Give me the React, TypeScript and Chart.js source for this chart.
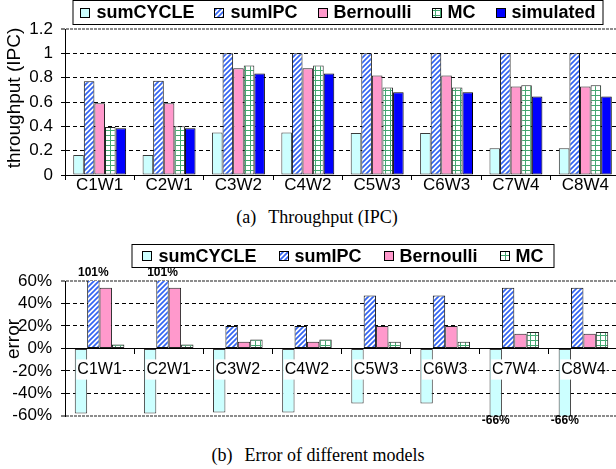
import React, { useEffect, useRef } from 'react';
import { Chart, registerables } from 'chart.js';

Chart.register(...registerables);

const categories = ['C1W1', 'C2W1', 'C3W2', 'C4W2', 'C5W3', 'C6W3', 'C7W4', 'C8W4'];
const seriesNames = ['sumCYCLE', 'sumIPC', 'Bernoulli', 'MC', 'simulated'];

// (a) Throughput (IPC)
const tpSumCycle = [0.165, 0.165, 0.35, 0.35, 0.345, 0.345, 0.22, 0.22];
const tpSumIPC = [0.77, 0.775, 1.0, 1.0, 1.0, 1.0, 1.0, 1.0];
const tpBernoulli = [0.59, 0.59, 0.878, 0.878, 0.818, 0.818, 0.727, 0.727];
const tpMC = [0.395, 0.4, 0.9, 0.9, 0.72, 0.72, 0.738, 0.738];
const tpSimulated = [0.385, 0.385, 0.835, 0.835, 0.68, 0.68, 0.645, 0.645];

// (b) Error of different models (%)
const errSumCycle = [-58, -58, -57, -57, -49, -49, -66, -66];
const errSumIPC = [101, 101, 20, 20, 47, 47, 54, 54];
const errBernoulli = [54, 54, 6, 6, 20, 20, 13, 13];
const errMC = [3.5, 3.5, 8, 8, 6, 6, 14.5, 14.5];

const tpAxis = { min: 0, max: 1.2, step: 0.2, title: 'throughput (IPC)' };
const errAxis = { min: -60, max: 60, step: 20, title: 'error' };

const SANS = '"Liberation Sans", Arial, Helvetica, sans-serif';
const SERIF = '"Liberation Serif", "Times New Roman", serif';

function stripePattern(): CanvasPattern | string {
  const c = document.createElement('canvas');
  c.width = 5; c.height = 5;
  const g = c.getContext('2d');
  if (!g) return '#3a66f0';
  g.fillStyle = '#ffffff';
  g.fillRect(0, 0, 5, 5);
  g.strokeStyle = '#3364f2';
  g.lineWidth = 1.7;
  g.beginPath();
  g.moveTo(-1, 6); g.lineTo(6, -1);
  g.moveTo(-1, 1); g.lineTo(1, -1);
  g.moveTo(4, 6); g.lineTo(6, 4);
  g.stroke();
  return g.createPattern(c, 'repeat') || '#3a66f0';
}

function gridPattern(): CanvasPattern | string {
  const c = document.createElement('canvas');
  c.width = 5; c.height = 5;
  const g = c.getContext('2d');
  if (!g) return '#ffffff';
  g.fillStyle = '#ffffff';
  g.fillRect(0, 0, 5, 5);
  g.fillStyle = '#45a872';
  g.fillRect(0, 0, 5, 1);
  g.fillRect(0, 0, 1, 5);
  return g.createPattern(c, 'repeat') || '#ffffff';
}

const boxLegend = {
  id: 'boxLegend',
  afterDraw(chart: any, _args: any, opts: any) {
    const ctx = chart.ctx as CanvasRenderingContext2D;
    const { left, top, width, height, gap } = opts;
    ctx.save();
    ctx.font = `bold 18px ${SANS}`;
    const items = chart.data.datasets.map((ds: any) => ({ label: ds.label, fill: ds.backgroundColor }));
    const sq = 10, sp = 6;
    const widths = items.map((it: any) => sq + sp + ctx.measureText(it.label).width);
    const total = widths.reduce((a: number, b: number) => a + b, 0) + gap * (items.length - 1);
    let x = left + (width - total) / 2;
    const cy = top + height / 2;
    ctx.fillStyle = '#fff';
    ctx.fillRect(left, top, width, height);
    ctx.strokeStyle = '#000';
    ctx.lineWidth = 1;
    ctx.strokeRect(left + 0.5, top + 0.5, width - 1, height - 1);
    items.forEach((it: any, i: number) => {
      const sx = Math.round(x);
      const sy = Math.round(cy - 5);
      ctx.fillStyle = it.fill;
      ctx.fillRect(sx, sy, sq, sq);
      ctx.strokeStyle = '#000';
      ctx.strokeRect(sx + 0.5, sy + 0.5, sq - 1, sq - 1);
      ctx.fillStyle = '#000';
      ctx.textBaseline = 'middle';
      ctx.textAlign = 'left';
      ctx.fillText(it.label, x + sq + sp, cy + 1);
      x += widths[i] + gap;
    });
    ctx.restore();
  },
};

const sideTitle = {
  id: 'sideTitle',
  afterDraw(chart: any, _args: any, opts: any) {
    const ctx = chart.ctx as CanvasRenderingContext2D;
    ctx.save();
    ctx.font = `${opts.size}px ${SANS}`;
    ctx.fillStyle = '#000';
    ctx.textAlign = 'center';
    ctx.textBaseline = 'middle';
    ctx.translate(opts.x, opts.y);
    ctx.rotate(-Math.PI / 2);
    ctx.fillText(opts.text, 0, 0);
    ctx.restore();
  },
};

const clipLabels = {
  id: 'clipLabels',
  afterDraw(chart: any, _args: any, opts: any) {
    if (!opts || !opts.enabled) return;
    const ctx = chart.ctx as CanvasRenderingContext2D;
    const y = chart.scales.y;
    const area = chart.chartArea;
    ctx.save();
    ctx.font = `bold 12px ${SANS}`;
    ctx.fillStyle = '#000';
    ctx.textAlign = 'center';
    ctx.textBaseline = 'middle';
    chart.data.datasets.forEach((ds: any, di: number) => {
      const meta = chart.getDatasetMeta(di);
      ds.data.forEach((v: number, i: number) => {
        if (v > y.max || v < y.min) {
          const el = meta.data[i];
          const ty = v > y.max ? area.top - 8 : area.bottom + 5;
          ctx.fillText(`${v}%`, el.x, ty);
        }
      });
    });
    ctx.restore();
  },
};

function ThroughputChart() {
  const ref = useRef<HTMLCanvasElement | null>(null);
  useEffect(() => {
    if (!ref.current) return;
    const stripes = stripePattern();
    const grid = gridPattern();
    const values = [tpSumCycle, tpSumIPC, tpBernoulli, tpMC, tpSimulated];
    const fills: any[] = ['#ccffff', stripes, '#ff99cc', grid, '#0000ff'];
    const borders = ['#3a3a3a', '#111', '#222', '#222', '#000'];
    const chart = new Chart(ref.current, {
      type: 'bar',
      data: {
        labels: categories,
        datasets: seriesNames.map((name, i) => ({
          label: name,
          data: values[i],
          backgroundColor: fills[i],
          borderColor: borders[i],
          borderWidth: 1,
          borderSkipped: false,
          barPercentage: 1,
          categoryPercentage: 0.763,
        })),
      },
      options: {
        responsive: false,
        animation: false,
        layout: { padding: { top: 29, left: 0, right: 0, bottom: 0 } },
        plugins: {
          legend: { display: false },
          tooltip: { enabled: false },
          boxLegend: { left: 72.5, top: 0, width: 531, height: 25, gap: 20 },
          sideTitle: { text: tpAxis.title, x: 15, y: 98, size: 19 },
          clipLabels: { enabled: false },
        } as any,
        scales: {
          x: {
            grid: { drawOnChartArea: false, drawTicks: true, tickLength: 5, color: '#000', offset: true },
            border: { display: true, color: '#000', width: 1 },
            ticks: { color: '#000', font: { family: SANS, size: 17 }, padding: -5, maxRotation: 0, autoSkip: false },
            afterFit: (s: any) => { s.height = 25; },
          },
          y: {
            min: tpAxis.min,
            max: tpAxis.max,
            ticks: {
              stepSize: tpAxis.step,
              autoSkip: false,
              color: '#000',
              font: { family: SANS, size: 17 },
              padding: 8,
              callback: (v: any) => String(Number(Number(v).toFixed(1))),
            },
            grid: {
              color: (c: any) => (c.tick && Math.abs(c.tick.value) < 1e-9 ? 'rgba(0,0,0,0)' : c.tick && c.tick.value > tpAxis.max - 1e-6 ? '#8c8c8c' : '#000'),
              lineWidth: (c: any) => (c.tick && c.tick.value > tpAxis.max - 1e-6 ? 2 : 1),
              tickColor: '#000',
              tickLength: 4,
              tickWidth: 1,
            },
            border: {
              display: true,
              color: '#000',
              width: 1,
              dash: (c: any) => (c.tick && c.tick.value > tpAxis.max - 1e-6 ? [3, 1] : [4, 3]),
            },
            afterFit: (s: any) => { s.width = 65; },
          },
        },
      } as any,
      plugins: [boxLegend, sideTitle, clipLabels],
    });
    return () => chart.destroy();
  }, []);
  return <canvas ref={ref} width={620} height={200} style={{ position: 'absolute', left: 0, top: 0, display: 'block' }} />;
}

function ErrorChart() {
  const ref = useRef<HTMLCanvasElement | null>(null);
  useEffect(() => {
    if (!ref.current) return;
    const stripes = stripePattern();
    const grid = gridPattern();
    const values = [errSumCycle, errSumIPC, errBernoulli, errMC];
    const fills: any[] = ['#ccffff', stripes, '#ff99cc', grid];
    const borders = ['#3a3a3a', '#111', '#222', '#222'];
    const chart = new Chart(ref.current, {
      type: 'bar',
      data: {
        labels: categories,
        datasets: seriesNames.slice(0, 4).map((name, i) => ({
          label: name,
          data: values[i],
          backgroundColor: fills[i],
          borderColor: borders[i],
          borderWidth: 1,
          borderSkipped: false,
          barPercentage: 1,
          categoryPercentage: 0.717,
        })),
      },
      options: {
        responsive: false,
        animation: false,
        layout: { padding: { top: 46, left: 0, right: 0, bottom: 14 } },
        plugins: {
          legend: { display: false },
          tooltip: { enabled: false },
          boxLegend: { left: 131.5, top: 9, width: 423, height: 24, gap: 22 },
          sideTitle: { text: errAxis.title, x: 14, y: 104, size: 19 },
          clipLabels: { enabled: true },
        } as any,
        scales: {
          x: {
            position: { y: 0 },
            grid: { drawOnChartArea: false, drawTicks: true, tickLength: 5, color: '#000', offset: true, z: 1 },
            border: { display: true, color: '#000', width: 1, z: 1 },
            ticks: {
              z: 1,
              color: '#000',
              font: { family: SANS, size: 16 },
              padding: 7,
              maxRotation: 0,
              autoSkip: false,
              showLabelBackdrop: true,
              backdropColor: '#ffffff',
              backdropPadding: { top: 1, bottom: 0, left: 1, right: 1 },
            },
            afterFit: (s: any) => { s.height = 0; },
          },
          y: {
            min: errAxis.min,
            max: errAxis.max,
            ticks: {
              stepSize: errAxis.step,
              autoSkip: false,
              color: '#000',
              font: { family: SANS, size: 17 },
              padding: 9,
              callback: (v: any) => `${v}%`,
            },
            grid: {
              color: (c: any) => (c.tick && c.tick.value === 0 ? 'rgba(0,0,0,0)' : c.tick && Math.abs(c.tick.value) === errAxis.max ? '#8c8c8c' : '#000'),
              lineWidth: (c: any) => (c.tick && Math.abs(c.tick.value) === errAxis.max ? 2 : 1),
              tickColor: '#000',
              tickLength: 4,
              tickWidth: 1,
            },
            border: {
              display: true,
              color: '#000',
              width: 1,
              dash: (c: any) => (c.tick && Math.abs(c.tick.value) === errAxis.max ? [3, 1] : [4, 3]),
            },
            afterFit: (s: any) => { s.width = 65; },
          },
        },
      } as any,
      plugins: [boxLegend, sideTitle, clipLabels],
    });
    return () => chart.destroy();
  }, []);
  return <canvas ref={ref} width={618} height={200} style={{ position: 'absolute', left: 0, top: 235, display: 'block' }} />;
}

export default function App() {
  const caption: React.CSSProperties = {
    position: 'absolute',
    left: 0,
    textAlign: 'center',
    fontFamily: SERIF,
    fontSize: 18,
    lineHeight: '20px',
    color: '#000',
    whiteSpace: 'pre',
  };
  return (
    <div style={{ position: 'fixed', left: 0, top: 0, width: 616, height: 469, overflow: 'hidden', background: '#fff' }}>
      <ThroughputChart />
      <div style={{ ...caption, top: 207, width: 634 }}>
        <span style={{ marginRight: 12 }}>(a)</span>Throughput (IPC)
      </div>
      <ErrorChart />
      <div style={{ ...caption, top: 445, width: 636 }}>
        <span style={{ marginRight: 12 }}>(b)</span>Error of different models
      </div>
    </div>
  );
}
